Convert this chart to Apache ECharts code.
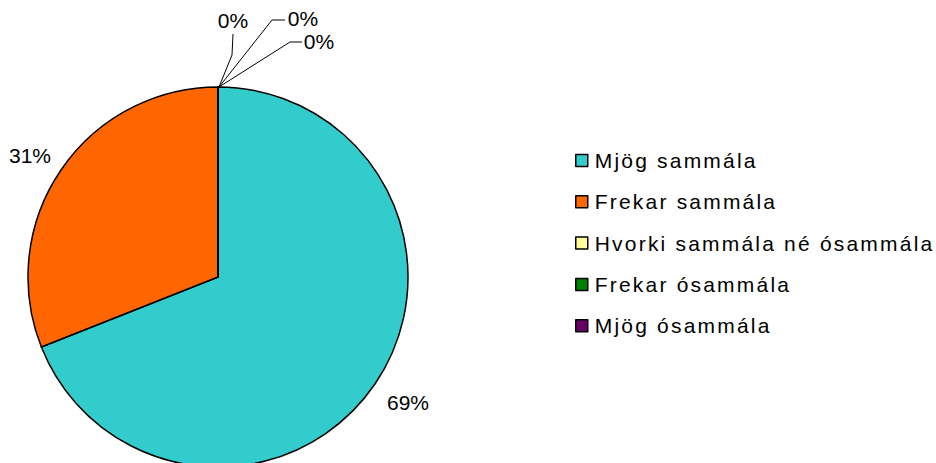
<!DOCTYPE html>
<html><head><meta charset="utf-8">
<script src="https://cdn.jsdelivr.net/npm/echarts@6/dist/echarts.min.js"></script>
<style>html,body{margin:0;padding:0;background:#fff}#c{width:936px;height:463px}</style>
</head><body><div id="c"></div>
<script>
const categories = ["Mjög sammála","Frekar sammála","Hvorki sammála né ósammála","Frekar ósammála","Mjög ósammála"];
const values = [69, 31, 0, 0, 0];
const colors = ["#33CCCC","#FF6600","#FFFF99","#008000","#660066"];

// label placements (positions only)
const labelPos = [
  {x:408,y:402,line:null},
  {x:30,y:155,line:null},
  {x:233,y:20,line:[[219,87],[232,55],[233,34]]},
  {x:303,y:18,line:[[219,87],[272,20],[285,20]]},
  {x:319,y:41,line:[[219,87],[290,42],[302,42]]}
];

const chart = echarts.init(document.getElementById('c'), null, {renderer:'svg'});
chart.setOption({
  animation:false,
  backgroundColor:'#fff',
  legend:{
    orient:'vertical', left:570, top:145,
    itemWidth:12, itemHeight:12, itemGap:20.3,
    icon:'rect',
    textStyle:{fontFamily:'Liberation Sans, Arial', fontSize:21, color:'#000', lineHeight:20, padding:[0,0,0,2]},
    itemStyle:{borderColor:'#000', borderWidth:1.5},
    data:categories
  },
  series:[{
    type:'pie',
    center:[218,277],
    radius:190,
    startAngle:90,
    clockwise:true,
    avoidLabelOverlap:false,
    itemStyle:{borderColor:'#000', borderWidth:1.5},
    label:{show:true, formatter:'{c}%', fontFamily:'Liberation Sans, Arial', fontSize:21, color:'#000'},
    labelLine:{show:true, lineStyle:{color:'#000', width:1}},
    labelLayout:function(p){
      const lp = labelPos[p.dataIndex];
      const r = {x:lp.x, y:lp.y, align:'center', verticalAlign:'middle'};
      if (lp.line) r.labelLinePoints = lp.line;
      return r;
    },
    data:categories.map((n,i)=>({name:n, value:values[i], itemStyle:{color:colors[i]},
      labelLine:{show: labelPos[i].line!==null}}))
  }]
});
// widen legend lettering like the reference
function spaceLegend(){
  document.querySelectorAll('#c svg text').forEach(t=>{
    if (categories.indexOf(t.textContent) >= 0) t.style.letterSpacing = '2.2px';
  });
}
spaceLegend();
chart.on('finished', spaceLegend);
</script></body></html>
